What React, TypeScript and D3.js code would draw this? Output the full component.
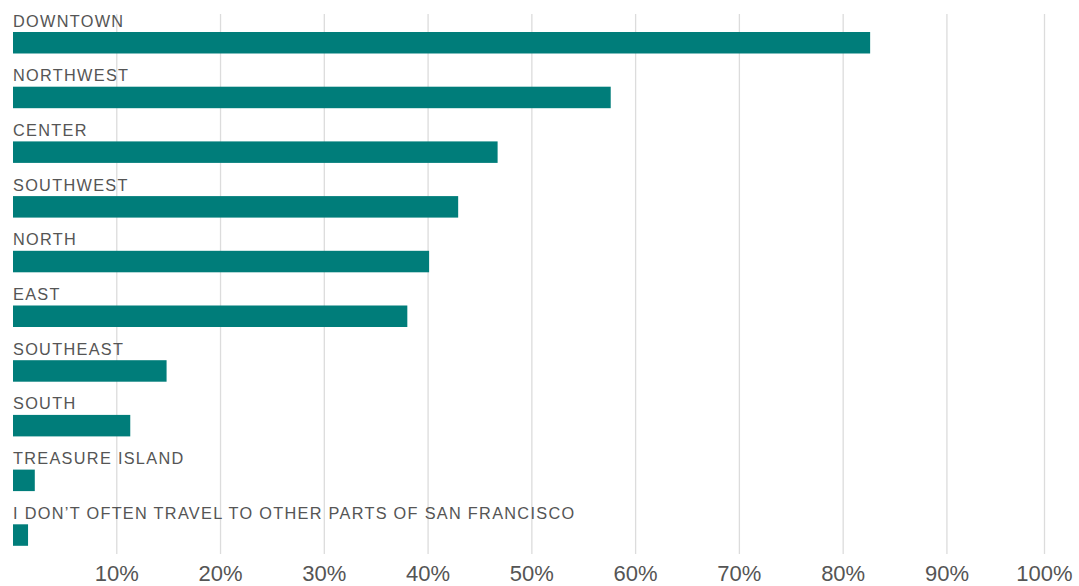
import React from "react";
import * as d3 from "d3";

const categories = [
  "DOWNTOWN",
  "NORTHWEST",
  "CENTER",
  "SOUTHWEST",
  "NORTH",
  "EAST",
  "SOUTHEAST",
  "SOUTH",
  "TREASURE ISLAND",
  "I DON\u2019T OFTEN TRAVEL TO OTHER PARTS OF SAN FRANCISCO",
];
const values = [82.6, 57.6, 46.7, 42.9, 40.1, 38.0, 14.8, 11.3, 2.1, 1.45];
const ticks = [10, 20, 30, 40, 50, 60, 70, 80, 90, 100];

const W = 1079;
const H = 586;

export default function App() {
  const x = d3.scaleLinear().domain([0, 100]).range([13, 1050.7]);
  const y = d3
    .scaleBand<string>()
    .domain(categories)
    .range([32, 545.8])
    .paddingInner(0.607)
    .paddingOuter(0)
    .align(0);
  const gridRight = 1044.5;
  return (
    <svg
      width={W}
      height={H}
      style={{ position: "absolute", left: 0, top: 0, background: "#fff" }}
    >
      {ticks.map((t) => {
        const gx = Math.min(x(t), gridRight);
        return (
          <g key={t}>
            <line
              x1={gx}
              x2={gx}
              y1={14}
              y2={554}
              stroke="#dcdcdc"
              strokeWidth={1.3}
            />
            <text
              x={gx}
              y={581}
              textAnchor="middle"
              fontFamily="Liberation Sans, Arial, sans-serif"
              fontSize={22}
              fill="#555"
            >
              {t}%
            </text>
          </g>
        );
      })}
      {categories.map((c, i) => (
        <g key={c}>
          <text
            x={13}
            y={(y(c) as number) - 5.5}
            fontFamily="Liberation Sans, Arial, sans-serif"
            fontSize={16.3}
            letterSpacing={1.3}
            fill="#555"
          >
            {c}
          </text>
          <rect
            x={x(0)}
            y={y(c)}
            width={x(values[i]) - x(0)}
            height={y.bandwidth()}
            fill="#007d7a"
          />
        </g>
      ))}
    </svg>
  );
}
